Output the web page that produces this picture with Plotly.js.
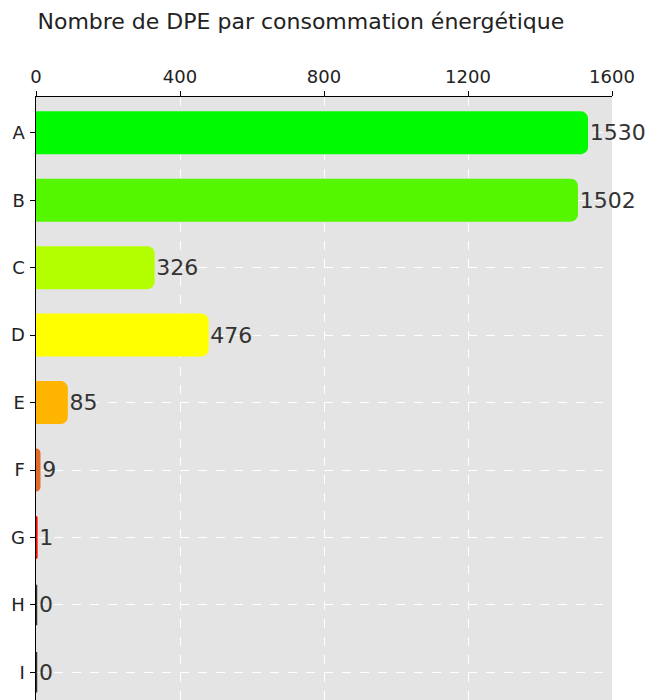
<!DOCTYPE html>
<html><head><meta charset="utf-8">
<script src="https://cdn.plot.ly/plotly-3.0.1.min.js"></script>
<style>body{margin:0;background:#fff}</style>
</head><body>
<div id="chart" style="width:654px;height:700px"></div>
<script>
const categories = ["A","B","C","D","E","F","G","H","I"];
const values = [1530,1502,326,476,85,9,1,0,0];
const barColors = ["#00fa00","#55f700","#b3ff00","#ffff00","#ffb400","#e06a28","#ff0000","#333333","#333333"];
const xTicks = [0,400,800,1200,1600];

const trace = {
  type: "bar",
  orientation: "h",
  y: categories,
  x: values,
  marker: {color: barColors, cornerradius: 6, line: {color: barColors, width: 2.5}},
  width: 0.6,
  text: values.map(String),
  textposition: "outside",
  cliponaxis: false,
  textfont: {family: "DejaVu Sans", size: 22, color: "#333"},
  hoverinfo: "none"
};

const layout = {
  width: 654, height: 700,
  margin: {l: 36, r: 42, t: 97, b: 0},
  paper_bgcolor: "#fff",
  plot_bgcolor: "#e4e4e4",
  title: {text: "Nombre de DPE par consommation énergétique", x: 0.46, xanchor: "center", xref: "container", y: 0.97, yanchor: "middle", yref: "container",
          font: {family: "DejaVu Sans", size: 22, color: "#222"}},
  xaxis: {side: "top", range: [0,1600], tickvals: xTicks, ticktext: xTicks.map(String),
          showline: true, linecolor: "#000", linewidth: 1.5, ticks: "outside", ticklen: 5, tickcolor: "#000",
          showgrid: true, gridcolor: "#fff", griddash: "dash", gridwidth: 1, zeroline: false,
          tickfont: {family: "DejaVu Sans", size: 18, color: "#222"}},
  yaxis: {range: [8.41, -0.53], showline: true, linecolor: "#000", linewidth: 1.5, ticks: "outside", ticklen: 5, tickcolor: "#000",
          showgrid: true, gridcolor: "#fff", griddash: "dash", gridwidth: 1,
          tickfont: {family: "DejaVu Sans", size: 18, color: "#222"}, ticklabelstandoff: 1},
  showlegend: false
};
Plotly.newPlot("chart", [trace], layout, {displayModeBar: false, staticPlot: true});
</script>
</body></html>
